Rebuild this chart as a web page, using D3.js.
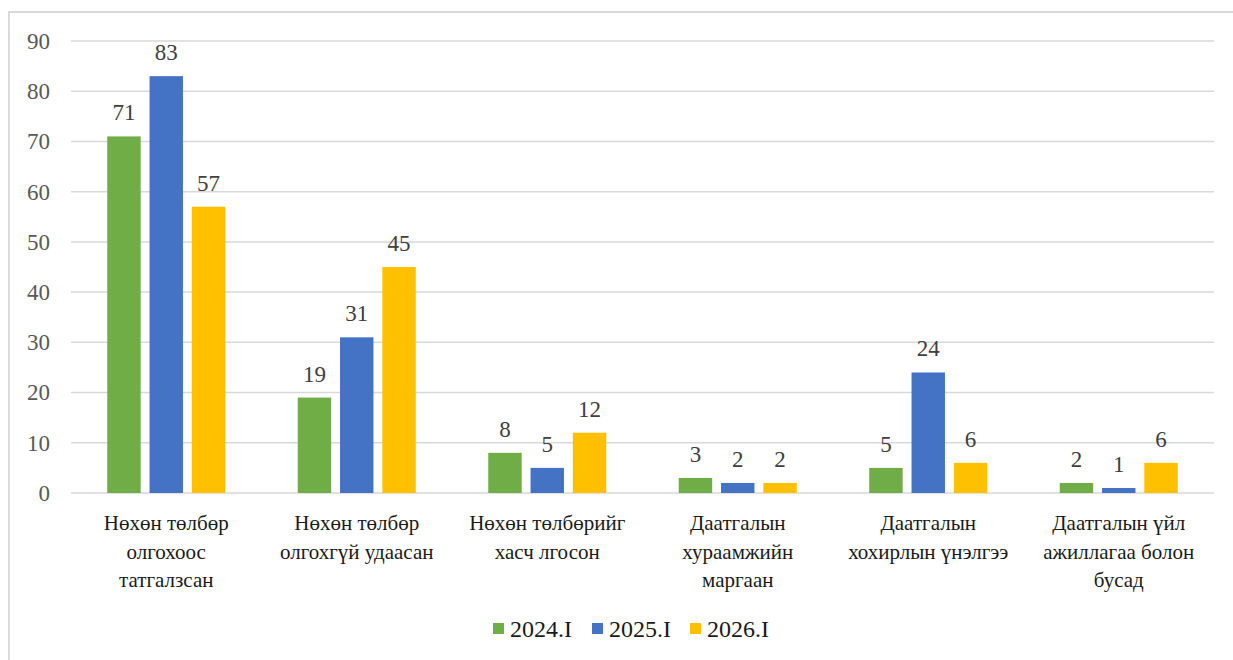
<!DOCTYPE html>
<html>
<head>
<meta charset="utf-8">
<script src="https://cdn.jsdelivr.net/npm/d3@7"></script>
<style>
  body { margin: 0; background: #fff; }
  svg text, svg tspan { font-family: "Times New Roman", "Liberation Serif", serif !important; }
</style>
</head>
<body>
<svg id="chart" width="1233" height="660"></svg>
<script>
var categories = [
  ["Нөхөн төлбөр", "олгохоос", "татгалзсан"],
  ["Нөхөн төлбөр", "олгохгүй удаасан"],
  ["Нөхөн төлбөрийг", "хасч лгосон"],
  ["Даатгалын", "хураамжийн", "маргаан"],
  ["Даатгалын", "хохирлын үнэлгээ"],
  ["Даатгалын үйл", "ажиллагаа болон", "бусад"]
]
var series_names = ["2024.I", "2025.I", "2026.I"]
var series_colors = ["#70AD47", "#4472C4", "#FFC000"]
var values_2024 = [71, 19, 8, 3, 5, 2]
var values_2025 = [83, 31, 5, 2, 24, 1]
var values_2026 = [57, 45, 12, 2, 6, 6]
var y_ticks = [0, 10, 20, 30, 40, 50, 60, 70, 80, 90]

var all_values = [values_2024, values_2025, values_2026]

var svg = d3.select("#chart"),
    plot_left = 71, plot_right = 1214, plot_top = 41, plot_bottom = 493

// chart frame
svg.append("rect")
   .attr("x", 9).attr("y", 12)
   .attr("width", 1240).attr("height", 660)
   .style("fill", "none")
   .style("stroke", "#d9d9d9")
   .style("stroke-width", 2)

var x_scale = d3.scaleBand()
                .domain(d3.range(categories.length))
                .range([plot_left, plot_right])
                .paddingInner(0),
    inner_scale = d3.scaleBand()
                .domain(d3.range(series_names.length))
                .range([x_scale.bandwidth() / 2 - 59, x_scale.bandwidth() / 2 + 59])
                .paddingInner(0.21),
    y_scale = d3.scaleLinear()
                .domain([0, 90])
                .range([plot_bottom, plot_top])

// gridlines
svg.selectAll(".grid")
   .data(y_ticks)
   .enter()
   .append("line")
   .attr("class", "grid")
   .attr("x1", plot_left).attr("x2", plot_right)
   .attr("y1", d=>y_scale(d)).attr("y2", d=>y_scale(d))
   .style("stroke", "#d9d9d9")
   .style("stroke-width", 1.5)

var y_axis = svg.append("g")
   .attr("transform", "translate(" + plot_left + ",0)")
   .call(d3.axisLeft(y_scale).tickValues(y_ticks).tickSize(0).tickPadding(21))
y_axis.attr("font-family", "Times New Roman").attr("font-size", 23)
y_axis.select(".domain").remove()
y_axis.selectAll("text")
      .attr("font-family", "Times New Roman")
      .style("font-size", "23px")
      .style("fill", "#595959")

// bars
series_names.forEach((name, s)=>{
	svg.selectAll(".bar-" + s)
	   .data(all_values[s])
	   .enter()
	   .append("rect")
	   .attr("class", "bar-" + s)
	   .attr("x", (d, i)=>x_scale(i) + inner_scale(s))
	   .attr("width", inner_scale.bandwidth())
	   .attr("y", d=>y_scale(d))
	   .attr("height", d=>plot_bottom - y_scale(d))
	   .style("fill", series_colors[s])

	svg.selectAll(".label-" + s)
	   .data(all_values[s])
	   .enter()
	   .append("text")
	   .attr("class", "label-" + s)
	   .attr("x", (d, i)=>x_scale(i) + inner_scale(s) + inner_scale.bandwidth() / 2)
	   .attr("y", d=>y_scale(d) - 16)
	   .attr("text-anchor", "middle")
	   .attr("font-family", "Times New Roman")
	   .style("font-size", "23px")
	   .style("fill", "#404040")
	   .text(d=>d)
})

// category labels
svg.selectAll(".cat")
   .data(categories)
   .enter()
   .append("text")
   .attr("class", "cat")
   .attr("text-anchor", "middle")
   .attr("font-family", "Times New Roman")
   .style("font-size", "21px")
   .style("fill", "#1a1a1a")
   .each(function (d, i) {
	   d3.select(this).selectAll("tspan")
	     .data(d)
	     .enter()
	     .append("tspan")
	     .attr("x", x_scale(i) + x_scale.bandwidth() / 2)
	     .attr("y", (t, j)=>530 + j * 28.5)
	     .text(t=>t)
   })

// legend
var legend_x = [493, 592, 690]
var legend = svg.selectAll(".legend")
   .data(series_names)
   .enter()
   .append("g")
   .attr("class", "legend")
   .attr("transform", (d, i)=>"translate(" + legend_x[i] + ",623)")
legend.append("rect")
      .attr("width", 11).attr("height", 11)
      .style("fill", (d, i)=>series_colors[i])
legend.append("text")
      .attr("x", 17).attr("y", 14)
      .attr("font-family", "Times New Roman")
      .style("font-size", "24px")
      .style("fill", "#1a1a1a")
      .text(d=>d)
</script>
</body>
</html>
